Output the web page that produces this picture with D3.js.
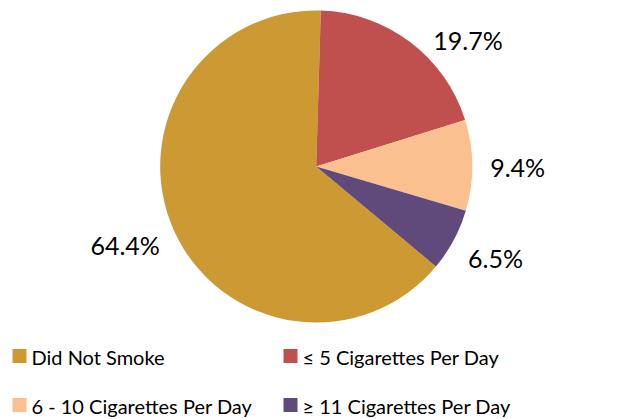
<!DOCTYPE html>
<html>
<head>
<meta charset="utf-8">
<script src="https://cdn.jsdelivr.net/npm/d3@7"></script>
<style>
  html, body { margin: 0; padding: 0; background: #fff; }
  svg { display: block; }
</style>
</head>
<body>
<div id="chart"></div>
<script>
// Chart data
const categories = ["Did Not Smoke", "\u2264 5 Cigarettes Per Day", "6 - 10 Cigarettes Per Day", "\u2265 11 Cigarettes Per Day"];
const values = [64.4, 19.7, 9.4, 6.5];
const labels = ["64.4%", "19.7%", "9.4%", "6.5%"];
const colors = ["#CC9933", "#C0504D", "#FAC090", "#604A7B"];

const W = 631, H = 419;
const cx = 316.2, cy = 166.5, radius = 156;
const rotDeg = 1.7;          // small clockwise offset of first slice after gold
const labelGap = 18;
// small per-label tweaks so labels sit where the original put them
const labelNudge = [0.5, 9.5, 0, -1]; // degrees
const labelDy = [2.5, 0, 1, 5.5];      // px

const svg = d3.select("#chart")
    .append("svg")
    .attr("width", W)
    .attr("height", H);

const total = d3.sum(values);
const toRad = Math.PI / 180;
const start = rotDeg * toRad - values[0] / total * 2 * Math.PI;

const pie = d3.pie()
    .sort(null)
    .value(d => d)
    .startAngle(start)
    .endAngle(start + 2 * Math.PI);

const arcs = pie(values);

const arc = d3.arc().innerRadius(0).outerRadius(radius);

const g = svg.append("g")
    .attr("transform", "translate(" + cx + "," + cy + ")");

g.selectAll("path.slice")
    .data(arcs)
    .join("path")
    .attr("class", "slice")
    .attr("fill", (d, i) => colors[i])
    .attr("d", arc);

// Data labels placed just outside each slice
const labelFont = "Lato, 'Open Sans', sans-serif";
g.selectAll("text.lbl")
    .data(arcs)
    .join("text")
    .attr("class", "lbl")
    .style("font-family", labelFont)
    .style("font-size", "25px")
    .attr("fill", "#000")
    .attr("text-anchor", "middle")
    .text((d, i) => labels[i])
    .each(function(d, i) {
        const el = d3.select(this);
        const w = this.getComputedTextLength();
        const h = 24;
        const a = (d.startAngle + d.endAngle) / 2 + labelNudge[i] * toRad;
        const rr = radius + labelGap;
        const px = rr * Math.sin(a), py = -rr * Math.cos(a);
        const x = px + Math.sin(a) * w / 2;
        const y = py - Math.cos(a) * h / 2;
        el.attr("x", x).attr("y", y + 11 + labelDy[i]);
    });

// Legend
const legendX = [12.5, 283.5];
const legendY = [349, 398];
const sw = 14;

const legend = svg.append("g");
categories.forEach((c, i) => {
    const col = i % 2, row = Math.floor(i / 2);
    const item = legend.append("g")
        .attr("transform", "translate(" + legendX[col] + "," + legendY[row] + ")");
    item.append("rect")
        .attr("width", sw)
        .attr("height", sw)
        .attr("fill", colors[i]);
    item.append("text")
        .attr("x", sw + 5)
        .attr("y", 15.5)
        .style("font-family", labelFont)
        .style("font-size", "20px")
        .attr("fill", "#000")
        .text(c);
});
</script>
</body>
</html>
